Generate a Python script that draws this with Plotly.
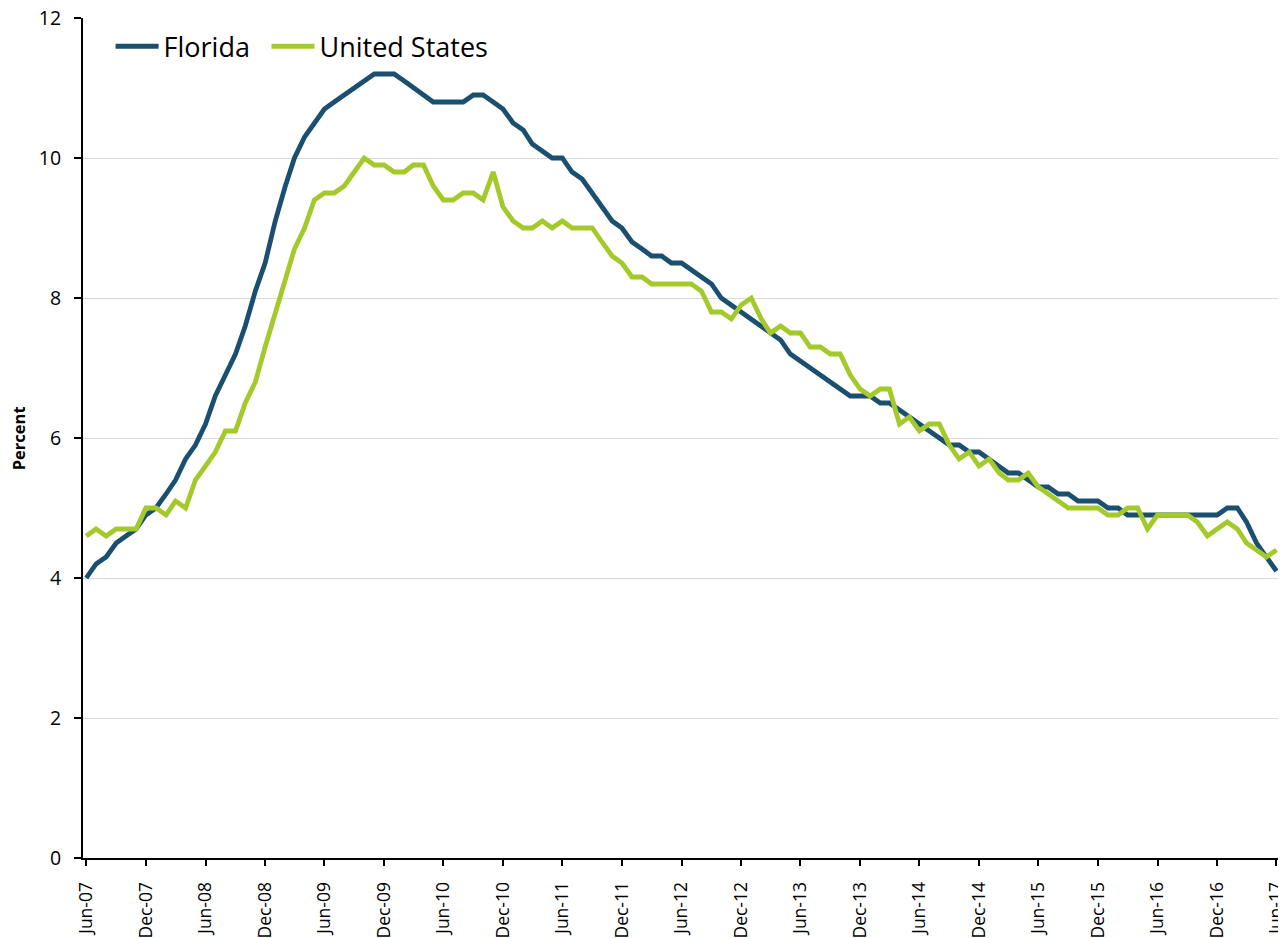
import pandas as pd
import plotly.graph_objects as go

months = pd.date_range("2007-06-01", periods=121, freq="MS")

florida = [
    4.0, 4.2, 4.3, 4.5, 4.6, 4.7, 4.9, 5.0, 5.2, 5.4, 5.7, 5.9, 6.2,
    6.6, 6.9, 7.2, 7.6, 8.1, 8.5, 9.1, 9.6, 10.0, 10.3, 10.5, 10.7,
    10.8, 10.9, 11.0, 11.1, 11.2, 11.2, 11.2, 11.1, 11.0, 10.9, 10.8, 10.8,
    10.8, 10.8, 10.9, 10.9, 10.8, 10.7, 10.5, 10.4, 10.2, 10.1, 10.0, 10.0,
    9.8, 9.7, 9.5, 9.3, 9.1, 9.0, 8.8, 8.7, 8.6, 8.6, 8.5, 8.5,
    8.4, 8.3, 8.2, 8.0, 7.9, 7.8, 7.7, 7.6, 7.5, 7.4, 7.2, 7.1,
    7.0, 6.9, 6.8, 6.7, 6.6, 6.6, 6.6, 6.5, 6.5, 6.4, 6.3, 6.2,
    6.1, 6.0, 5.9, 5.9, 5.8, 5.8, 5.7, 5.6, 5.5, 5.5, 5.4, 5.3,
    5.3, 5.2, 5.2, 5.1, 5.1, 5.1, 5.0, 5.0, 4.9, 4.9, 4.9, 4.9,
    4.9, 4.9, 4.9, 4.9, 4.9, 4.9, 5.0, 5.0, 4.8, 4.5, 4.3, 4.1,
]

united_states = [
    4.6, 4.7, 4.6, 4.7, 4.7, 4.7, 5.0, 5.0, 4.9, 5.1, 5.0, 5.4, 5.6,
    5.8, 6.1, 6.1, 6.5, 6.8, 7.3, 7.8, 8.3, 8.7, 9.0, 9.4, 9.5,
    9.5, 9.6, 9.8, 10.0, 9.9, 9.9, 9.8, 9.8, 9.9, 9.9, 9.6, 9.4,
    9.4, 9.5, 9.5, 9.4, 9.8, 9.3, 9.1, 9.0, 9.0, 9.1, 9.0, 9.1,
    9.0, 9.0, 9.0, 8.8, 8.6, 8.5, 8.3, 8.3, 8.2, 8.2, 8.2, 8.2,
    8.2, 8.1, 7.8, 7.8, 7.7, 7.9, 8.0, 7.7, 7.5, 7.6, 7.5, 7.5,
    7.3, 7.3, 7.2, 7.2, 6.9, 6.7, 6.6, 6.7, 6.7, 6.2, 6.3, 6.1,
    6.2, 6.2, 5.9, 5.7, 5.8, 5.6, 5.7, 5.5, 5.4, 5.4, 5.5, 5.3,
    5.2, 5.1, 5.0, 5.0, 5.0, 5.0, 4.9, 4.9, 5.0, 5.0, 4.7, 4.9,
    4.9, 4.9, 4.9, 4.8, 4.6, 4.7, 4.8, 4.7, 4.5, 4.4, 4.3, 4.4,
]

series_names = ["Florida", "United States"]
series_colors = ["#1b4f70", "#a4c92b"]
legend_ids = ["legend", "legend2"]

FONT = "Open Sans, Lato, sans-serif"

fig = go.Figure()
for name, vals, col, lg in zip(series_names, [florida, united_states], series_colors, legend_ids):
    fig.add_trace(go.Scatter(
        x=months, y=vals, mode="lines", name=name, legend=lg,
        line=dict(color=col, width=4.8),
    ))

legend_common = dict(
    orientation="h", y=0.995, xanchor="left", yanchor="top",
    bgcolor="rgba(0,0,0,0)", font=dict(size=27, family=FONT),
    itemwidth=43,
)

fig.update_layout(
    width=1286, height=938,
    margin=dict(l=75, r=12, t=10, b=88, autoexpand=False),
    plot_bgcolor="white", paper_bgcolor="white",
    font=dict(family=FONT, color="black"),
    showlegend=True,
    legend=dict(x=0.023, **legend_common),
    legend2=dict(x=0.153, **legend_common),
    annotations=[dict(
        text="<b>Percent</b>", xref="paper", yref="paper",
        x=-0.054, y=0.5, xanchor="center", yanchor="middle",
        textangle=-90, showarrow=False, font=dict(size=16.5, family=FONT),
    )],
)

fig.update_xaxes(
    type="date", automargin=False,
    range=["2007-05-22", "2017-06-18"],
    tick0="2007-06-01", dtick="M6", tickformat="%b-%y",
    tickangle=-90, tickfont=dict(size=17.5, family=FONT),
    ticklabelstandoff=9, ticklabeloverflow="allow",
    showgrid=False, showline=True, linecolor="black", linewidth=2,
    ticks="outside", ticklen=6, tickcolor="black", tickwidth=1.5,
    zeroline=False,
)
fig.update_yaxes(
    automargin=False,
    range=[0, 12], dtick=2, tickfont=dict(size=19.5, family=FONT),
    ticklabelstandoff=9, ticklabeloverflow="allow",
    showgrid=True, gridcolor="#d9d9d9", gridwidth=1.3,
    showline=True, linecolor="black", linewidth=2,
    ticks="outside", ticklen=7, tickcolor="black", tickwidth=1.5,
    zeroline=False,
)

fig.write_html("out.html")
